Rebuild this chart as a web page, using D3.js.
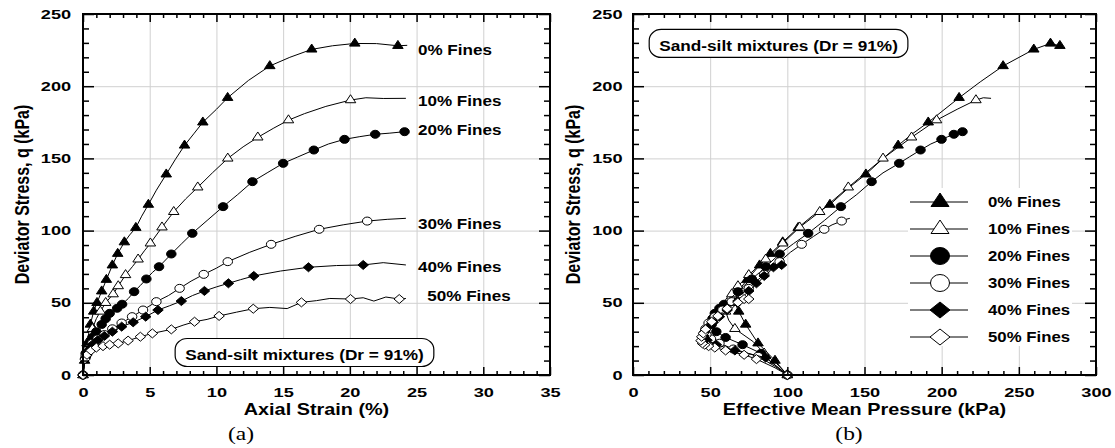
<!DOCTYPE html>
<html>
<head>
<meta charset="utf-8">
<script src="https://cdn.jsdelivr.net/npm/d3@7"></script>
<style>
  body { margin: 0; background: #fff; }
  svg { display: block; }
  .grid line { stroke: #d0d0d0; stroke-width: 1; }
  .grid path { display: none; }
</style>
</head>
<body>
<div id="chart"></div>
<script>
// series names
var fines = ["0% Fines", "10% Fines", "20% Fines", "30% Fines", "40% Fines", "50% Fines"];

// (a) axial strain (%) vs deviator stress q (kPa); third value = 1 where a marker is drawn
var strain0 = [[0,0,1],[0.12,10,1],[0.3,22,1],[0.55,35,1],[0.8,44,1],[1.05,50,1],[1.4,58,1],[1.75,66,1],[2.2,76,1],[2.6,84,1],[3.1,92,1],[3.5,97,0],[3.96,102,1],[4.4,110,0],[4.9,118,1],[5.5,128,0],[6.24,139,1],[6.9,149,0],[7.61,159,1],[8.3,167,0],[8.98,175,1],[10,184,0],[10.84,192,1],[12.4,204,0],[14.0,214,1],[15.5,220,0],[17.14,225.5,1],[18.7,228,0],[20.37,229.6,1],[22,229.5,0],[23.6,228,1],[24.3,228.3,0]];
var strain10 = [[0,0,1],[0.1,7,0],[0.25,15,1],[0.45,24,0],[0.7,32,1],[1.0,39,0],[1.3,44,1],[1.7,50,1],[2.26,56,1],[2.64,61.6,1],[3.19,69.3,1],[3.7,75,0],[4.13,80.1,1],[4.6,86,0],[5.05,91.2,1],[5.92,102.3,1],[6.8,113,1],[7.7,122,0],[8.6,130,1],[9.7,140,0],[10.85,150,1],[12,158,0],[13.1,164.6,1],[14.3,171,0],[15.4,176.5,1],[16.6,181,0],[18.2,186,0],[20.05,190.4,1],[21.2,192,0],[22.5,191.5,0],[24.2,191.6,0]];
var strain20 = [[0,0,1],[0.08,8,0],[0.2,15,1],[0.4,21,1],[0.7,26,1],[1.0,30,1],[1.4,35,1],[1.7,39,1],[2.0,42.7,1],[2.56,46.2,1],[2.93,49,1],[3.4,53,0],[3.83,57.7,1],[4.3,62,0],[4.75,66.5,1],[5.2,71,0],[5.7,75,1],[6.62,83.8,1],[7.4,91,0],[8.19,98.1,1],[9.3,107,0],[10.5,116.6,1],[11.6,125,0],[12.7,133.9,1],[13.8,140,0],[15,146.6,1],[16.1,151,0],[17.3,155.8,1],[18.4,160,0],[19.6,163.2,1],[20.7,165,0],[21.9,166.7,1],[23,167.5,0],[24.1,168.5,1]];
var strain30 = [[0,0,1],[0.08,7,0],[0.2,13,1],[0.4,18,1],[0.7,22,1],[1.1,25,1],[1.6,28,1],[2.2,32,1],[2.9,36,1],[3.68,40.4,1],[4.5,45,1],[5.5,50.8,1],[6.4,55,0],[7.24,60,1],[8.1,65,0],[9.05,69.7,1],[10,74,0],[10.85,78.5,1],[12.5,85,0],[14.1,90.5,1],[15.9,96,0],[17.7,100.9,1],[19.5,104,0],[21.3,106.6,1],[22.8,107.8,0],[24.2,108.5,0]];
var strain40 = [[0,0,1],[0.08,7,0],[0.2,12,1],[0.4,17,1],[0.7,21,1],[1.1,24,1],[1.6,27,1],[2.2,30,1],[2.9,33.5,1],[3.76,36.5,1],[4.7,40.4,1],[5.62,45,1],[6.5,48,0],[7.37,51.2,1],[8.2,55,0],[9.1,58.2,1],[10,61,0],[10.9,63.5,1],[11.8,66,0],[12.8,68.6,1],[14.8,72,0],[16.9,74.6,1],[19,75.8,0],[21,76.2,1],[22.5,77.8,0],[24.2,76.2,0]];
var strain50 = [[0,0,1],[0.06,6,0],[0.15,11,1],[0.3,14,1],[0.6,17,1],[1.0,19,1],[1.5,20,1],[2.0,21,1],[2.64,21.9,1],[3.38,23.8,1],[4.3,26.5,1],[5.2,28.8,1],[6.62,31.6,1],[7.5,34.5,0],[8.36,36.9,1],[9.3,38.5,0],[10.2,40.9,1],[11.5,43.5,0],[12.76,45.9,1],[14.0,46.8,0],[15.3,46,0],[16.37,50.3,1],[17.5,51.5,0],[18.5,53,0],[20.05,52.6,1],[21,53.5,0],[21.8,51.2,0],[22.7,54,0],[23.7,52.6,1],[24.2,53,0]];

// (b) effective mean pressure p' (kPa) vs deviator stress q (kPa)
var path0 = [[100,0,1],[92,10,1],[81,22,1],[73,35,1],[68.5,44,1],[66,50,1],[68,58,1],[74,66,1],[82,76,1],[89,84,1],[97,92,1],[107,102,1],[116,110,0],[127.6,118,1],[139,129,0],[150.9,139,1],[161,149,0],[171.8,159,1],[181,167,0],[191.3,175,1],[211.3,192,1],[225,203,0],[239.8,214,1],[259.7,225.5,1],[270.5,229.6,1],[276.6,228,1]];
var path10 = [[100,0,1],[93,8,0],[85,15,1],[78,23,0],[70,29,0],[66,32,1],[62,38,0],[60,44,1],[61,50,1],[64,56,1],[68,61.6,1],[75,69.3,1],[86,80.1,1],[97,91.2,1],[108,102.3,1],[121,113,1],[139.5,130,1],[162,150,1],[180.5,164.6,1],[196.7,176.5,1],[210,184,0],[222.2,190.4,1],[227,192,0],[232,191.6,0]];
var path20 = [[100,0,1],[92,7,0],[83,15,1],[71,21,1],[60,26,1],[54,30,1],[51,35,1],[51.5,39,1],[53,42.7,1],[56,46.2,1],[59,49,1],[63,53,0],[68,57.7,1],[72,62,0],[77,66.5,1],[82,71,0],[86,75,1],[95,83.8,1],[104,91,0],[113.5,98.1,1],[124,107,0],[134.7,116.6,1],[145,125,0],[154.6,133.9,1],[162,140,0],[172.5,146.6,1],[179,151,0],[186.3,155.8,1],[193,160,0],[199.9,163.2,1],[204,165,0],[207.9,166.7,1],[211,167.5,0],[213.5,168.5,1]];
var path30 = [[100,0,1],[92,6,0],[81,13,1],[65,18,1],[56,22,1],[50.5,25,1],[47.5,28,1],[47,32,1],[49,36,1],[53,40.4,1],[58,45,1],[64,50.8,1],[69,55,0],[75,60,1],[80,65,0],[85,69.7,1],[90,74,0],[95,78.5,1],[102,85,0],[109.3,90.5,1],[117,96,0],[123.9,100.9,1],[129,104,0],[135.2,106.6,1],[138,107.8,0],[140.5,108.5,0]];
var path40 = [[100,0,1],[93,6,0],[86,12,1],[66,17,1],[54,21,1],[48,24,1],[46,27,1],[46.5,30,1],[49,33.5,1],[52,36.5,1],[56,40.4,1],[61,45,1],[64,48,0],[68,51.2,1],[72,55,0],[75,58.2,1],[78,61,0],[80,63.5,1],[83,66,0],[85,68.6,1],[89,72,0],[91,74.6,1],[94,75.8,0],[96.3,76.2,1],[98,77.8,0],[97.5,76.2,0]];
var path50 = [[100,0,1],[92,5,0],[80,11,1],[72,14,1],[60,17,1],[53,19,1],[49,20,1],[46.5,21,1],[45,21.9,1],[44,23.8,1],[44.5,26.5,1],[45.5,28.8,1],[47,31.6,1],[49,34.5,0],[51,36.9,1],[53,38.5,0],[55,40.9,1],[58,43.5,0],[61,45.9,1],[63,46.8,0],[64,46,0],[68,50.3,1],[70,51.5,0],[71.5,53,0],[72,52.6,1],[73,53.5,0],[73.5,51.2,0],[74.5,54,0],[75,52.6,1],[75.5,53,0]];

var strainSeries = [strain0, strain10, strain20, strain30, strain40, strain50];
var pathSeries = [path0, path10, path20, path30, path40, path50];

// where the series names sit in panel (a), in data units (strain, q at baseline)
var labelStrain = [25.1, 25.1, 25.1, 25.1, 25.1, 25.8];
var labelQ = [221.6, 186.3, 166.2, 101, 71, 51.2];

var note = "Sand-silt mixtures (Dr = 91%)";

// marker styles
var shapes = ["triangle", "triangle", "circle", "circle", "diamond", "diamond"];
var filled = [true, false, true, false, true, false];

var SANS = "'Liberation Sans', Arial, Helvetica, sans-serif";
var SERIF = "'Liberation Serif', 'Times New Roman', serif";
var W = 1115, H = 448;
var plotTop = 14, plotBottom = 375;

var svg = d3.select("#chart").append("svg")
    .attr("width", W)
    .attr("height", H);

// marker outline centred at 0,0
function shapePath(type, w, h) {
    if (type == "triangle") {
        return `M0,${-2 * h / 3}L${w / 2},${h / 3}L${-w / 2},${h / 3}Z`;
    } else if (type == "diamond") {
        return `M0,${-h / 2}L${w / 2},0L0,${h / 2}L${-w / 2},0Z`;
    }
    return `M${-w / 2},0A${w / 2},${h / 2} 0 1,0 ${w / 2},0A${w / 2},${h / 2} 0 1,0 ${-w / 2},0Z`;
}
var plotSize = {triangle: [10.5, 8], circle: [9.5, 8], diamond: [10.5, 9]};
var legendSize = {triangle: [18, 13.5], circle: [19, 17], diamond: [20, 16]};

// bold text stretched sideways like the reference
function label(parent, x, y, str, size, sx, anchor, rotate, serif) {
    return parent.append("text")
        .attr("transform", `translate(${x},${y}) scale(${sx},1)` + (rotate ? " rotate(-90)" : ""))
        .attr("font-family", serif ? SERIF : SANS)
        .attr("font-weight", serif ? "normal" : "bold")
        .attr("font-size", size)
        .attr("text-anchor", anchor)
        .attr("fill", "#000")
        .text(str);
}

function addAxis(g, axis, tx, ty, labelled) {
    var a = g.append("g").attr("transform", `translate(${tx},${ty})`).call(axis);
    a.select(".domain").remove();
    a.selectAll(".tick line").attr("stroke", "#000").attr("stroke-width", 1.5);
    if (labelled) {
        a.selectAll(".tick text")
            .attr("font-family", SANS)
            .attr("font-weight", "bold")
            .attr("font-size", 13)
            .attr("fill", "#000")
            .attr("transform", "scale(1.4,1)");
    } else {
        a.selectAll(".tick text").remove();
    }
    return a;
}

function roundBox(g, cx, baseline, str) {
    var box = g.append("g");
    var r = box.append("rect");
    var t = label(box, cx, baseline, str, 14, 1.23, "middle", false, false);
    var tw = t.node().getComputedTextLength() * 1.23;
    r.attr("x", cx - tw / 2 - 10)
        .attr("y", baseline - 21.5)
        .attr("width", tw + 20)
        .attr("height", 28)
        .attr("rx", 12)
        .attr("ry", 11)
        .attr("fill", "#fff")
        .attr("stroke", "#000")
        .attr("stroke-width", 1.2);
}

var panels = [
    {left: 83, right: 550, xMax: 35, xMajor: 5, xMinor: 1, series: strainSeries,
     xTitle: "Axial Strain (%)", tag: "(a)", tagX: 241, yTitleX: 28.5},
    {left: 633, right: 1096, xMax: 300, xMajor: 50, xMinor: 10, series: pathSeries,
     xTitle: "Effective Mean Pressure (kPa)", tag: "(b)", tagX: 849, yTitleX: 580}
];

panels.forEach(function(p, pi) {
    var w = p.right - p.left, h = plotBottom - plotTop;
    var g = svg.append("g").attr("transform", `translate(${p.left},${plotTop})`);

    var x = d3.scaleLinear().domain([0, p.xMax]).range([0, w]);
    var y = d3.scaleLinear().domain([0, 250]).range([h, 0]);

    var xMajors = d3.range(0, p.xMax + 0.01, p.xMajor);
    var xMinors = d3.range(0, p.xMax + 0.01, p.xMinor).filter(v => v % p.xMajor != 0);
    var yMajors = d3.range(0, 251, 50);
    var yMinors = d3.range(0, 251, 10).filter(v => v % 50 != 0);

    // light grid at major ticks
    g.append("g").attr("class", "grid").attr("transform", `translate(0,${h})`)
        .call(d3.axisBottom(x).tickValues(xMajors.slice(1, -1)).tickSize(-h).tickFormat(""));
    g.append("g").attr("class", "grid")
        .call(d3.axisLeft(y).tickValues(yMajors.slice(1, -1)).tickSize(-w).tickFormat(""));

    // curves
    var line = d3.line().x(d => x(d[0])).y(d => y(d[1]));
    p.series.forEach(function(data, si) {
        g.append("path")
            .datum(data)
            .attr("d", line)
            .attr("fill", "none")
            .attr("stroke", "#000")
            .attr("stroke-width", 1);
        var sz = plotSize[shapes[si]];
        g.selectAll(".m" + si)
            .data(data.filter(d => d[2] == 1))
            .enter()
            .append("path")
            .attr("class", "m" + si)
            .attr("transform", d => `translate(${x(d[0])},${y(d[1])})`)
            .attr("d", shapePath(shapes[si], sz[0], sz[1]))
            .attr("fill", filled[si] ? "#000" : "#fff")
            .attr("stroke", "#000")
            .attr("stroke-width", 1);
    });

    // ticks point inwards on all four sides
    addAxis(g, d3.axisBottom(x).tickValues(xMajors).tickSizeInner(-8).tickSizeOuter(0).tickPadding(13), 0, h, true);
    addAxis(g, d3.axisBottom(x).tickValues(xMinors).tickSizeInner(-4).tickSizeOuter(0), 0, h, false);
    addAxis(g, d3.axisTop(x).tickValues(xMajors).tickSizeInner(-8).tickSizeOuter(0), 0, 0, false);
    addAxis(g, d3.axisTop(x).tickValues(xMinors).tickSizeInner(-4).tickSizeOuter(0), 0, 0, false);
    addAxis(g, d3.axisLeft(y).tickValues(yMajors).tickSizeInner(-11).tickSizeOuter(0).tickPadding(pi == 0 ? 8.5 : 7.5), 0, 0, true);
    addAxis(g, d3.axisLeft(y).tickValues(yMinors).tickSizeInner(-6).tickSizeOuter(0), 0, 0, false);
    addAxis(g, d3.axisRight(y).tickValues(yMajors).tickSizeInner(-11).tickSizeOuter(0), w, 0, false);
    addAxis(g, d3.axisRight(y).tickValues(yMinors).tickSizeInner(-6).tickSizeOuter(0), w, 0, false);

    g.append("rect")
        .attr("width", w)
        .attr("height", h)
        .attr("fill", "none")
        .attr("stroke", "#000")
        .attr("stroke-width", 2);

    // titles
    label(svg, (p.left + p.right) / 2, 415, p.xTitle, 16, 1.24, "middle", false, false);
    label(svg, p.yTitleX, (plotTop + plotBottom) / 2, "Deviator Stress, q (kPa)", 16, 1.24, "middle", true, false);
    label(svg, p.tagX, 440, p.tag, 18.5, 1.27, "middle", false, true);

    if (pi == 0) {
        fines.forEach(function(f, i) {
            label(g, x(labelStrain[i]), y(labelQ[i]), f, 14, 1.22, "start", false, false);
        });
        roundBox(g, x(16.6), y(10.4), note);
    } else {
        roundBox(g, x(94.3), y(224.4), note);

        // legend
        var lg = svg.append("g").attr("transform", "translate(910,202)");
        lg.append("rect")
            .attr("x", -2).attr("y", -14)
            .attr("width", 164).attr("height", 158)
            .attr("fill", "#fff");
        fines.forEach(function(f, i) {
            var row = lg.append("g").attr("transform", `translate(0,${i * 27})`);
            row.append("line")
                .attr("x1", 0).attr("x2", 58)
                .attr("stroke", "#000").attr("stroke-width", 1);
            var sz = legendSize[shapes[i]];
            row.append("path")
                .attr("transform", "translate(30,0)")
                .attr("d", shapePath(shapes[i], sz[0], sz[1]))
                .attr("fill", filled[i] ? "#000" : "#fff")
                .attr("stroke", "#000")
                .attr("stroke-width", 1);
            label(row, 78, 5, f, 14, 1.2, "start", false, false);
        });
    }
});
</script>
</body>
</html>
